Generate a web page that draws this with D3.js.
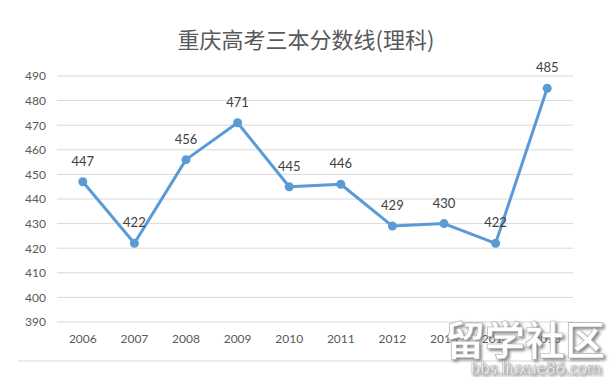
<!DOCTYPE html>
<html>
<head>
<meta charset="utf-8">
<script src="https://cdn.jsdelivr.net/npm/d3@7"></script>
<style>
  body { margin: 0; background: #fff; }
  svg { display: block; }
</style>
</head>
<body>
<script>
var years = ["2006", "2007", "2008", "2009", "2010", "2011", "2012", "2013", "2014", "2015"];
var scores = [447, 422, 456, 471, 445, 446, 429, 430, 422, 485];
var yTicks = [390, 400, 410, 420, 430, 440, 450, 460, 470, 480, 490];
var title = "重庆高考三本分数线(理科)";

var width = 609, height = 377;
var margin = {top: 76, right: 36, bottom: 55, left: 57};
var innerW = width - margin.left - margin.right;
var innerH = height - margin.top - margin.bottom;

var svg = d3.select("body")
    .append("svg")
    .attr("width", width)
    .attr("height", height);

var defs = svg.append("defs");
var flt = defs.append("filter").attr("id", "shadow")
    .attr("x", "-10%").attr("y", "-10%").attr("width", "130%").attr("height", "140%");
flt.append("feDropShadow")
    .attr("dx", 2).attr("dy", 2).attr("stdDeviation", 1.5)
    .attr("flood-color", "#666").attr("flood-opacity", 0.8);

svg.append("text")
    .attr("x", 306)
    .attr("y", 48)
    .attr("text-anchor", "middle")
    .attr("font-family", "'Noto Sans CJK SC', sans-serif")
    .attr("font-size", 22)
    .attr("fill", "#595959")
    .text(title);

var g = svg.append("g")
    .attr("transform", `translate(${margin.left}, ${margin.top})`);

const x = d3.scaleBand()
    .domain(years)
    .range([0, innerW]);

const y = d3.scaleLinear()
    .domain([390, 490])
    .range([innerH, 0]);

// gridlines
g.selectAll(".grid")
    .data(yTicks)
    .enter()
    .append("line")
    .attr("x1", 0)
    .attr("x2", innerW)
    .attr("y1", d => y(d))
    .attr("y2", d => y(d))
    .attr("stroke", "#d9d9d9")
    .attr("stroke-width", 1);

var yAxis = d3.axisLeft(y).tickValues(yTicks).tickSize(0).tickPadding(11);
var ya = g.append("g").call(yAxis);
ya.select(".domain").remove();
ya.selectAll("text")
    .attr("font-family", "Lato, sans-serif")
    .attr("font-size", 12)
    .attr("fill", "#595959");

var xAxis = d3.axisBottom(x).tickSize(0).tickPadding(12);
var xa = g.append("g")
    .attr("transform", `translate(0, ${innerH})`)
    .call(xAxis);
xa.select(".domain").remove();
xa.selectAll("text")
    .attr("font-family", "Lato, sans-serif")
    .attr("font-size", 12)
    .attr("fill", "#595959");

var cx = d => x(d) + x.bandwidth() / 2;

var line = d3.line()
    .x((d, i) => cx(years[i]))
    .y(d => y(d));

g.append("path")
    .datum(scores)
    .attr("d", line)
    .attr("fill", "none")
    .attr("stroke", "#5b9bd5")
    .attr("stroke-width", 3)
    .attr("stroke-linejoin", "round");

g.selectAll(".dot")
    .data(scores)
    .enter()
    .append("circle")
    .attr("cx", (d, i) => cx(years[i]))
    .attr("cy", d => y(d))
    .attr("r", 4.5)
    .attr("fill", "#5b9bd5");

g.selectAll(".lbl")
    .data(scores)
    .enter()
    .append("text")
    .attr("x", (d, i) => cx(years[i]))
    .attr("y", d => y(d) - 16)
    .attr("text-anchor", "middle")
    .attr("font-family", "Lato, sans-serif")
    .attr("font-size", 13)
    .attr("fill", "#404040")
    .text(d => d);

// bottom frame line
svg.append("line")
    .attr("x1", 18)
    .attr("x2", 600)
    .attr("y1", 361)
    .attr("y2", 361)
    .attr("stroke", "#d9d9d9");

// watermark
var wm = svg.append("g").attr("filter", "url(#shadow)");
wm.append("text")
    .attr("x", 605)
    .attr("y", 355)
    .attr("text-anchor", "end")
    .attr("font-family", "'Noto Sans CJK SC', sans-serif")
    .attr("font-weight", "bold")
    .attr("font-size", 40)
    .attr("fill", "#fff")
    .attr("stroke", "#aaa")
    .attr("stroke-width", 0.6)
    .text("留学社区");

wm.append("text")
    .attr("x", 601)
    .attr("y", 374)
    .attr("text-anchor", "end")
    .attr("font-family", "Lato, sans-serif")
    .attr("font-size", 17)
    .attr("fill", "#fff")
    .attr("stroke", "#aaa")
    .attr("stroke-width", 0.5)
    .text("bbs.liuxue86.com");
</script>
</body>
</html>
